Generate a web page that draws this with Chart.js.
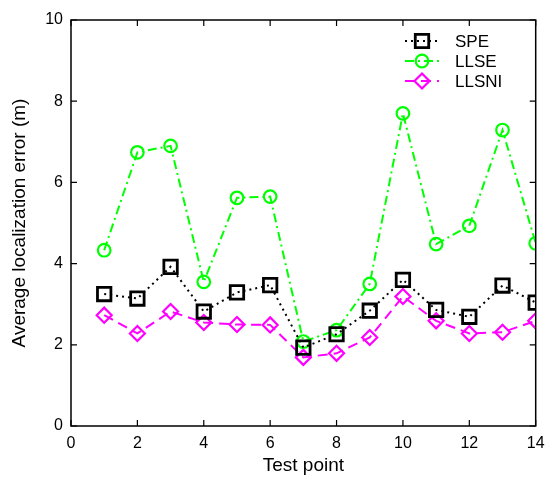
<!DOCTYPE html>
<html>
<head>
<meta charset="utf-8">
<script src="https://cdn.jsdelivr.net/npm/chart.js@4.4.0/dist/chart.umd.min.js"></script>
<style>
  html, body { margin: 0; padding: 0; background: #fff; }
  #wrap { width: 548px; height: 477px; }
</style>
</head>
<body>
<div id="wrap"><canvas id="c" width="548" height="477"></canvas></div>
<script>
// test points 1..14
const testPoints = [1, 2, 3, 4, 5, 6, 7, 8, 9, 10, 11, 12, 13, 14];
const speErr   = [3.25, 3.14, 3.92, 2.82, 3.29, 3.47, 1.93, 2.26, 2.84, 3.60, 2.86, 2.69, 3.46, 3.04];
const llseErr  = [4.33, 6.74, 6.90, 3.55, 5.62, 5.65, 2.08, 2.36, 3.50, 7.70, 4.48, 4.93, 7.29, 4.50];
const llsniErr = [2.73, 2.28, 2.82, 2.55, 2.50, 2.49, 1.69, 1.79, 2.18, 3.19, 2.59, 2.28, 2.31, 2.59];
const xTicks = [0, 2, 4, 6, 8, 10, 12, 14];
const yTicks = [0, 2, 4, 6, 8, 10];

const FONT = 'Liberation Sans, Arial, sans-serif';

function toPts(vals) {
    return testPoints.map((x, i) => ({ x: x, y: vals[i] }));
}

const series = [
    { label: 'SPE',   data: speErr,   color: '#000000', dash: [2, 4],        style: 'rect',    r: 9.5, bw: 2.8 },
    { label: 'LLSE',  data: llseErr,  color: '#00ff00', dash: [9, 4, 2, 4],  style: 'circle',  r: 6.3, bw: 2.2 },
    { label: 'LLSNI', data: llsniErr, color: '#ff00ff', dash: [10, 6],       style: 'rectRot', r: 7.5, bw: 2.2 }
];

// box + inward ticks, matlab style
const boxPlugin = {
    id: 'box',
    afterDatasetsDraw(chart) {
        const { ctx, chartArea: a, scales } = chart;
        ctx.save();
        ctx.strokeStyle = '#000';
        ctx.lineWidth = 1.5;
        ctx.strokeRect(a.left, a.top, a.right - a.left, a.bottom - a.top);
        ctx.lineWidth = 1.2;
        const tl = 6;
        ctx.beginPath();
        xTicks.forEach(v => {
            const px = scales.x.getPixelForValue(v);
            ctx.moveTo(px, a.bottom); ctx.lineTo(px, a.bottom - tl);
            ctx.moveTo(px, a.top); ctx.lineTo(px, a.top + tl);
        });
        yTicks.forEach(v => {
            const py = scales.y.getPixelForValue(v);
            ctx.moveTo(a.left, py); ctx.lineTo(a.left + tl, py);
            ctx.moveTo(a.right, py); ctx.lineTo(a.right - tl, py);
        });
        ctx.stroke();
        ctx.restore();
    }
};

// legend with line sample + marker, no frame
const legendPlugin = {
    id: 'lineLegend',
    afterDraw(chart) {
        const ctx = chart.ctx;
        const x0 = 405, x1 = 439, tx = 455;
        ctx.save();
        ctx.textBaseline = 'middle';
        series.forEach((s, i) => {
            const y = 41 + i * 20;
            ctx.strokeStyle = s.color;
            ctx.lineWidth = 2;
            ctx.setLineDash(s.dash);
            ctx.beginPath();
            ctx.moveTo(x0, y); ctx.lineTo(x1, y);
            ctx.stroke();
            ctx.setLineDash([]);
            ctx.lineWidth = s.bw;
            ctx.fillStyle = 'rgba(0,0,0,0)';
            Chart.helpers.drawPoint(ctx, { pointStyle: s.style, radius: s.r, rotation: 0, borderWidth: s.bw }, (x0 + x1) / 2, y);
            ctx.fillStyle = '#000';
            ctx.font = '17px ' + FONT;
            ctx.fillText(s.label, tx, y + 1);
        });
        ctx.restore();
    }
};

new Chart(document.getElementById('c'), {
    type: 'line',
    data: {
        datasets: series.map(s => ({
            label: s.label,
            data: toPts(s.data),
            borderColor: s.color,
            borderWidth: 2,
            borderDash: s.dash,
            pointStyle: s.style,
            pointRadius: s.r,
            pointBorderWidth: s.bw,
            pointBorderColor: s.color,
            pointBackgroundColor: 'rgba(0,0,0,0)',
            tension: 0,
            fill: false
        }))
    },
    options: {
        responsive: false,
        animation: false,
        events: [],
        layout: { padding: { top: 20, right: 6, left: 0, bottom: 0 } },
        plugins: {
            legend: { display: false },
            tooltip: { enabled: false }
        },
        scales: {
            x: {
                type: 'linear',
                min: 0, max: 14,
                afterFit: s => { s.height = 51; s.paddingLeft = 0; s.paddingRight = 0; },
                afterBuildTicks: s => { s.ticks = xTicks.map(v => ({ value: v })); },
                grid: { display: false, drawTicks: false },
                border: { display: false },
                ticks: { color: '#000', padding: 8, font: { family: FONT, size: 16 }, maxRotation: 0 },
                title: { display: true, text: 'Test point', color: '#000', font: { family: FONT, size: 19 }, padding: { top: 0, bottom: 0 } }
            },
            y: {
                min: 0, max: 10,
                afterFit: s => { s.width = 71; s.paddingTop = 0; s.paddingBottom = 0; },
                afterBuildTicks: s => { s.ticks = yTicks.map(v => ({ value: v })); },
                grid: { display: false, drawTicks: false },
                border: { display: false },
                ticks: { color: '#000', padding: 8, font: { family: FONT, size: 16 } },
                title: { display: true, text: 'Average localization error (m)', color: '#000', font: { family: FONT, size: 19 }, padding: { top: 8.5, bottom: 0 } }
            }
        }
    },
    plugins: [boxPlugin, legendPlugin]
});
</script>
</body>
</html>
